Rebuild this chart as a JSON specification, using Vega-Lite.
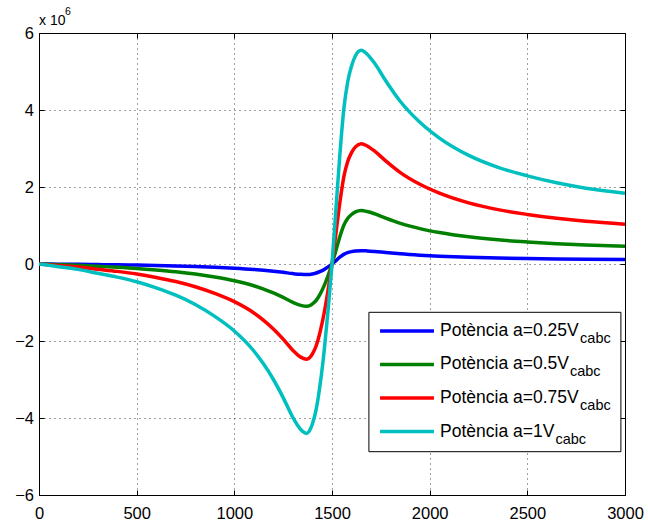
{
"$schema":"https://vega.github.io/schema/vega-lite/v6.json",
"width":586,"height":462,
"autosize":{"type":"none"},
"padding":{"left":39,"top":33,"right":23,"bottom":30},
"background":"#ffffff",
"config":{"view":{"stroke":"#000000","strokeWidth":1},"font":"Liberation Sans","text":{"font":"Liberation Sans"}},
"datasets":{
"curves":[
{"s":"a=0.25","n":0,"p":0},{"s":"a=0.25","n":100,"p":-4400},{"s":"a=0.25","n":200,"p":-8800},{"s":"a=0.25","n":300,"p":-15000},{"s":"a=0.25","n":400,"p":-21300},{"s":"a=0.25","n":500,"p":-28800},{"s":"a=0.25","n":600,"p":-38800},{"s":"a=0.25","n":700,"p":-50600},{"s":"a=0.25","n":800,"p":-65600},{"s":"a=0.25","n":900,"p":-85000},{"s":"a=0.25","n":1000,"p":-108800},{"s":"a=0.25","n":1100,"p":-141300},{"s":"a=0.25","n":1150,"p":-162500},{"s":"a=0.25","n":1200,"p":-187500},{"s":"a=0.25","n":1250,"p":-216900},{"s":"a=0.25","n":1300,"p":-249400},{"s":"a=0.25","n":1340,"p":-268800},{"s":"a=0.25","n":1370,"p":-275000},{"s":"a=0.25","n":1385,"p":-270600},{"s":"a=0.25","n":1400,"p":-259400},{"s":"a=0.25","n":1420,"p":-234400},{"s":"a=0.25","n":1440,"p":-193800},{"s":"a=0.25","n":1460,"p":-140600},{"s":"a=0.25","n":1480,"p":-75000},{"s":"a=0.25","n":1500,"p":0},{"s":"a=0.25","n":1520,"p":88100},{"s":"a=0.25","n":1540,"p":176300},{"s":"a=0.25","n":1560,"p":250000},{"s":"a=0.25","n":1580,"p":295000},{"s":"a=0.25","n":1600,"p":321300},{"s":"a=0.25","n":1620,"p":338100},{"s":"a=0.25","n":1650,"p":346900},{"s":"a=0.25","n":1680,"p":340600},{"s":"a=0.25","n":1720,"p":325000},{"s":"a=0.25","n":1775,"p":297500},{"s":"a=0.25","n":1850,"p":263800},{"s":"a=0.25","n":1950,"p":230000},{"s":"a=0.25","n":2050,"p":204400},{"s":"a=0.25","n":2200,"p":176300},{"s":"a=0.25","n":2350,"p":156900},{"s":"a=0.25","n":2500,"p":143100},{"s":"a=0.25","n":2650,"p":131900},{"s":"a=0.25","n":2800,"p":123100},{"s":"a=0.25","n":3000,"p":115000},
{"s":"a=0.5","n":0,"p":0},{"s":"a=0.5","n":100,"p":-17500},{"s":"a=0.5","n":200,"p":-35000},{"s":"a=0.5","n":300,"p":-60000},{"s":"a=0.5","n":400,"p":-85000},{"s":"a=0.5","n":500,"p":-115000},{"s":"a=0.5","n":600,"p":-155000},{"s":"a=0.5","n":700,"p":-202500},{"s":"a=0.5","n":800,"p":-262500},{"s":"a=0.5","n":900,"p":-340000},{"s":"a=0.5","n":1000,"p":-435000},{"s":"a=0.5","n":1100,"p":-565000},{"s":"a=0.5","n":1150,"p":-650000},{"s":"a=0.5","n":1200,"p":-750000},{"s":"a=0.5","n":1250,"p":-867500},{"s":"a=0.5","n":1300,"p":-997500},{"s":"a=0.5","n":1340,"p":-1075000},{"s":"a=0.5","n":1370,"p":-1100000},{"s":"a=0.5","n":1385,"p":-1082500},{"s":"a=0.5","n":1400,"p":-1037500},{"s":"a=0.5","n":1420,"p":-937500},{"s":"a=0.5","n":1440,"p":-775000},{"s":"a=0.5","n":1460,"p":-562500},{"s":"a=0.5","n":1480,"p":-300000},{"s":"a=0.5","n":1500,"p":0},{"s":"a=0.5","n":1520,"p":352500},{"s":"a=0.5","n":1540,"p":705000},{"s":"a=0.5","n":1560,"p":1000000},{"s":"a=0.5","n":1580,"p":1180000},{"s":"a=0.5","n":1600,"p":1285000},{"s":"a=0.5","n":1620,"p":1352500},{"s":"a=0.5","n":1650,"p":1387500},{"s":"a=0.5","n":1680,"p":1362500},{"s":"a=0.5","n":1720,"p":1300000},{"s":"a=0.5","n":1775,"p":1190000},{"s":"a=0.5","n":1850,"p":1055000},{"s":"a=0.5","n":1950,"p":920000},{"s":"a=0.5","n":2050,"p":817500},{"s":"a=0.5","n":2200,"p":705000},{"s":"a=0.5","n":2350,"p":627500},{"s":"a=0.5","n":2500,"p":572500},{"s":"a=0.5","n":2650,"p":527500},{"s":"a=0.5","n":2800,"p":492500},{"s":"a=0.5","n":3000,"p":460000},
{"s":"a=0.75","n":0,"p":0},{"s":"a=0.75","n":100,"p":-39400},{"s":"a=0.75","n":200,"p":-78800},{"s":"a=0.75","n":300,"p":-135000},{"s":"a=0.75","n":400,"p":-191300},{"s":"a=0.75","n":500,"p":-258800},{"s":"a=0.75","n":600,"p":-348800},{"s":"a=0.75","n":700,"p":-455600},{"s":"a=0.75","n":800,"p":-590600},{"s":"a=0.75","n":900,"p":-765000},{"s":"a=0.75","n":1000,"p":-978800},{"s":"a=0.75","n":1100,"p":-1271300},{"s":"a=0.75","n":1150,"p":-1462500},{"s":"a=0.75","n":1200,"p":-1687500},{"s":"a=0.75","n":1250,"p":-1951900},{"s":"a=0.75","n":1300,"p":-2244400},{"s":"a=0.75","n":1340,"p":-2418800},{"s":"a=0.75","n":1370,"p":-2475000},{"s":"a=0.75","n":1385,"p":-2435600},{"s":"a=0.75","n":1400,"p":-2334400},{"s":"a=0.75","n":1420,"p":-2109400},{"s":"a=0.75","n":1440,"p":-1743800},{"s":"a=0.75","n":1460,"p":-1265600},{"s":"a=0.75","n":1480,"p":-675000},{"s":"a=0.75","n":1500,"p":0},{"s":"a=0.75","n":1520,"p":793100},{"s":"a=0.75","n":1540,"p":1586300},{"s":"a=0.75","n":1560,"p":2250000},{"s":"a=0.75","n":1580,"p":2655000},{"s":"a=0.75","n":1600,"p":2891300},{"s":"a=0.75","n":1620,"p":3043100},{"s":"a=0.75","n":1650,"p":3121900},{"s":"a=0.75","n":1680,"p":3065600},{"s":"a=0.75","n":1720,"p":2925000},{"s":"a=0.75","n":1775,"p":2677500},{"s":"a=0.75","n":1850,"p":2373800},{"s":"a=0.75","n":1950,"p":2070000},{"s":"a=0.75","n":2050,"p":1839400},{"s":"a=0.75","n":2200,"p":1586300},{"s":"a=0.75","n":2350,"p":1411900},{"s":"a=0.75","n":2500,"p":1288100},{"s":"a=0.75","n":2650,"p":1186900},{"s":"a=0.75","n":2800,"p":1108100},{"s":"a=0.75","n":3000,"p":1035000},
{"s":"a=1","n":0,"p":0},{"s":"a=1","n":100,"p":-70000},{"s":"a=1","n":200,"p":-140000},{"s":"a=1","n":300,"p":-240000},{"s":"a=1","n":400,"p":-340000},{"s":"a=1","n":500,"p":-460000},{"s":"a=1","n":600,"p":-620000},{"s":"a=1","n":700,"p":-810000},{"s":"a=1","n":800,"p":-1050000},{"s":"a=1","n":900,"p":-1360000},{"s":"a=1","n":1000,"p":-1740000},{"s":"a=1","n":1100,"p":-2260000},{"s":"a=1","n":1150,"p":-2600000},{"s":"a=1","n":1200,"p":-3000000},{"s":"a=1","n":1250,"p":-3470000},{"s":"a=1","n":1300,"p":-3990000},{"s":"a=1","n":1340,"p":-4300000},{"s":"a=1","n":1370,"p":-4400000},{"s":"a=1","n":1385,"p":-4330000},{"s":"a=1","n":1400,"p":-4150000},{"s":"a=1","n":1420,"p":-3750000},{"s":"a=1","n":1440,"p":-3100000},{"s":"a=1","n":1460,"p":-2250000},{"s":"a=1","n":1480,"p":-1200000},{"s":"a=1","n":1500,"p":0},{"s":"a=1","n":1520,"p":1410000},{"s":"a=1","n":1540,"p":2820000},{"s":"a=1","n":1560,"p":4000000},{"s":"a=1","n":1580,"p":4720000},{"s":"a=1","n":1600,"p":5140000},{"s":"a=1","n":1620,"p":5410000},{"s":"a=1","n":1650,"p":5550000},{"s":"a=1","n":1680,"p":5450000},{"s":"a=1","n":1720,"p":5200000},{"s":"a=1","n":1775,"p":4760000},{"s":"a=1","n":1850,"p":4220000},{"s":"a=1","n":1950,"p":3680000},{"s":"a=1","n":2050,"p":3270000},{"s":"a=1","n":2200,"p":2820000},{"s":"a=1","n":2350,"p":2510000},{"s":"a=1","n":2500,"p":2290000},{"s":"a=1","n":2650,"p":2110000},{"s":"a=1","n":2800,"p":1970000},{"s":"a=1","n":3000,"p":1840000}
],
"legend":[
{"s":"a=0.25","label":"Potència a=0.25V","sub":"cabc"},
{"s":"a=0.5","label":"Potència a=0.5V","sub":"cabc"},
{"s":"a=0.75","label":"Potència a=0.75V","sub":"cabc"},
{"s":"a=1","label":"Potència a=1V","sub":"cabc"}
]
},
"resolve":{"axis":{"x":"independent","y":"independent"}},
"layer":[
{"data":{"name":"curves"},
 "mark":{"type":"line","strokeWidth":3.5,"interpolate":"monotone","clip":true},
 "encoding":{
  "x":{"field":"n","type":"quantitative","scale":{"domain":[0,3000],"nice":false,"zero":false},
   "axis":{"orient":"bottom","title":null,"values":[0,500,1000,1500,2000,2500,3000],"format":"d","grid":true,"gridColor":"#000000","gridDash":[1,4],"gridOpacity":0.75,"gridWidth":1,"domain":true,"domainColor":"#000000","domainWidth":1,"ticks":true,"tickSize":-5,"tickColor":"#000000","labelPadding":15,"labelFontSize":16.5,"labelColor":"#000000","labelFont":"Liberation Sans","labelFlush":false,"labelOverlap":false}},
  "y":{"field":"p","type":"quantitative","scale":{"domain":[-6000000,6000000],"nice":false,"zero":false},
   "axis":{"orient":"left","title":null,"values":[-6000000,-4000000,-2000000,0,2000000,4000000,6000000],"labelExpr":"format(datum.value/1000000,'d')","grid":true,"gridColor":"#000000","gridDash":[1,4],"gridOpacity":0.75,"gridWidth":1,"domain":true,"domainColor":"#000000","domainWidth":1,"ticks":true,"tickSize":-5,"tickColor":"#000000","labelPadding":10.5,"labelFontSize":16.5,"labelColor":"#000000","labelFont":"Liberation Sans","labelFlush":false,"labelOverlap":false}},
  "color":{"field":"s","type":"nominal","scale":{"domain":["a=0.25","a=0.5","a=0.75","a=1"],"range":["#0000ff","#008000","#ff0000","#00bfbf"]},"legend":null}
 }},
{"data":{"values":[{"base":"x 10","exp":"6"}]},
 "encoding":{
  "x":{"datum":0,"type":"quantitative","axis":{"orient":"top","title":null,"labels":false,"grid":false,"domain":false,"ticks":true,"tickSize":-5,"tickColor":"#000000","values":[0,500,1000,1500,2000,2500,3000]}},
  "y":{"datum":6000000,"type":"quantitative","axis":{"orient":"right","title":null,"labels":false,"grid":false,"domain":false,"ticks":true,"tickSize":-5,"tickColor":"#000000","values":[-6000000,-4000000,-2000000,0,2000000,4000000,6000000]}}
 },
 "layer":[
  {"mark":{"type":"text","align":"left","baseline":"alphabetic","dy":-8.5,"fontSize":14,"color":"#000000","font":"Liberation Sans"},"encoding":{"text":{"field":"base"}}},
  {"mark":{"type":"text","align":"left","baseline":"alphabetic","dx":26,"dy":-18.5,"fontSize":10.5,"color":"#000000","font":"Liberation Sans"},"encoding":{"text":{"field":"exp"}}}
 ]},
{"data":{"values":[{"box":"legend"}]},
 "mark":{"type":"rect","fill":"#ffffff","stroke":"#000000","strokeWidth":1},
 "encoding":{"x":{"datum":1689,"type":"quantitative","axis":null},"x2":{"datum":2979},"y":{"datum":-1254500,"type":"quantitative","axis":null},"y2":{"datum":-4875000}}},
{"data":{"name":"legend"},"transform":[{"filter":"datum.s == 'a=0.25'"}],
 "encoding":{"y":{"datum":-1740000,"type":"quantitative","axis":null}},
 "layer":[
  {"mark":{"type":"rule","strokeWidth":3.5},"encoding":{"x":{"datum":1746,"type":"quantitative","axis":null},"x2":{"datum":2022},"color":{"field":"s","type":"nominal","legend":null}}},
  {"mark":{"type":"text","align":"left","baseline":"alphabetic","dy":5,"fontSize":17.5,"color":"#000000","font":"Liberation Sans"},"encoding":{"x":{"datum":2053,"type":"quantitative","axis":null},"text":{"field":"label"}}},
  {"mark":{"type":"text","align":"left","baseline":"alphabetic","dy":12,"fontSize":14.5,"color":"#000000","font":"Liberation Sans"},"encoding":{"x":{"datum":2770,"type":"quantitative","axis":null},"text":{"field":"sub"}}}
 ]},
{"data":{"name":"legend"},"transform":[{"filter":"datum.s == 'a=0.5'"}],
 "encoding":{"y":{"datum":-2610000,"type":"quantitative","axis":null}},
 "layer":[
  {"mark":{"type":"rule","strokeWidth":3.5},"encoding":{"x":{"datum":1746,"type":"quantitative","axis":null},"x2":{"datum":2022},"color":{"field":"s","type":"nominal","legend":null}}},
  {"mark":{"type":"text","align":"left","baseline":"alphabetic","dy":5,"fontSize":17.5,"color":"#000000","font":"Liberation Sans"},"encoding":{"x":{"datum":2053,"type":"quantitative","axis":null},"text":{"field":"label"}}},
  {"mark":{"type":"text","align":"left","baseline":"alphabetic","dy":12,"fontSize":14.5,"color":"#000000","font":"Liberation Sans"},"encoding":{"x":{"datum":2718,"type":"quantitative","axis":null},"text":{"field":"sub"}}}
 ]},
{"data":{"name":"legend"},"transform":[{"filter":"datum.s == 'a=0.75'"}],
 "encoding":{"y":{"datum":-3481000,"type":"quantitative","axis":null}},
 "layer":[
  {"mark":{"type":"rule","strokeWidth":3.5},"encoding":{"x":{"datum":1746,"type":"quantitative","axis":null},"x2":{"datum":2022},"color":{"field":"s","type":"nominal","legend":null}}},
  {"mark":{"type":"text","align":"left","baseline":"alphabetic","dy":5,"fontSize":17.5,"color":"#000000","font":"Liberation Sans"},"encoding":{"x":{"datum":2053,"type":"quantitative","axis":null},"text":{"field":"label"}}},
  {"mark":{"type":"text","align":"left","baseline":"alphabetic","dy":12,"fontSize":14.5,"color":"#000000","font":"Liberation Sans"},"encoding":{"x":{"datum":2770,"type":"quantitative","axis":null},"text":{"field":"sub"}}}
 ]},
{"data":{"name":"legend"},"transform":[{"filter":"datum.s == 'a=1'"}],
 "encoding":{"y":{"datum":-4351000,"type":"quantitative","axis":null}},
 "layer":[
  {"mark":{"type":"rule","strokeWidth":3.5},"encoding":{"x":{"datum":1746,"type":"quantitative","axis":null},"x2":{"datum":2022},"color":{"field":"s","type":"nominal","legend":null}}},
  {"mark":{"type":"text","align":"left","baseline":"alphabetic","dy":5,"fontSize":17.5,"color":"#000000","font":"Liberation Sans"},"encoding":{"x":{"datum":2053,"type":"quantitative","axis":null},"text":{"field":"label"}}},
  {"mark":{"type":"text","align":"left","baseline":"alphabetic","dy":12,"fontSize":14.5,"color":"#000000","font":"Liberation Sans"},"encoding":{"x":{"datum":2644,"type":"quantitative","axis":null},"text":{"field":"sub"}}}
 ]}
]
}
